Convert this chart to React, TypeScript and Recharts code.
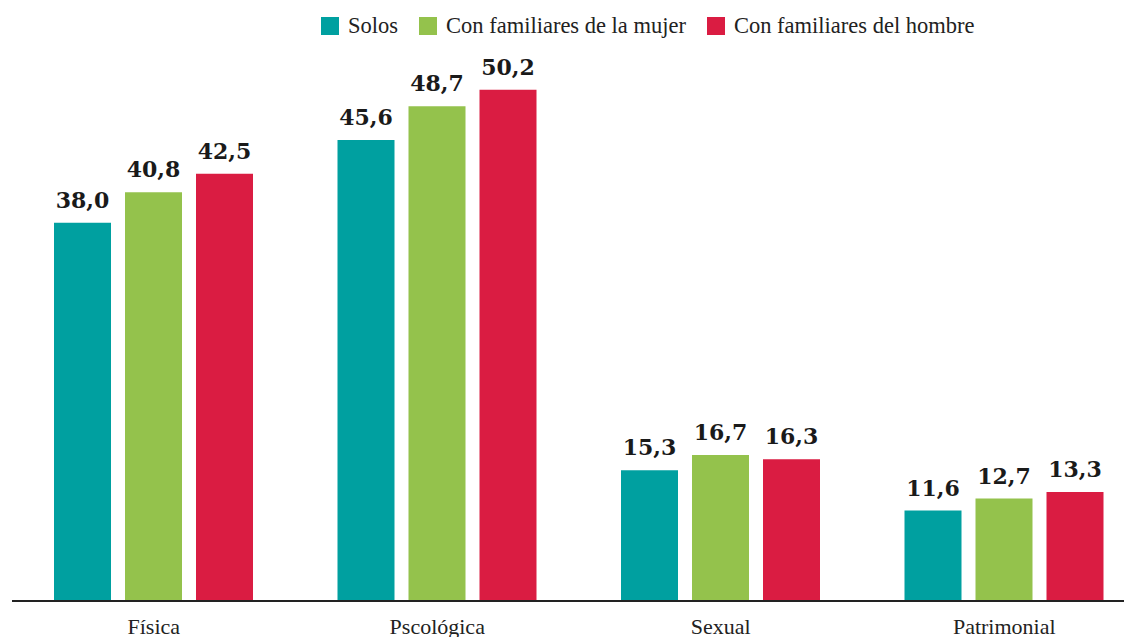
import React from "react";
import { BarChart, Bar, XAxis, YAxis, LabelList } from "recharts";

const categories = ["Física", "Pscológica", "Sexual", "Patrimonial"];
const solos = [38.0, 45.6, 15.3, 11.6];
const familiaresMujer = [40.8, 48.7, 16.7, 12.7];
const familiaresHombre = [42.5, 50.2, 16.3, 13.3];

const seriesNames = ["Solos", "Con familiares de la mujer", "Con familiares del hombre"];
const COLORS = ["#00A0A0", "#94C24C", "#DA1C42"];

const data = categories.map((name, i) => ({
  name,
  solos: solos[i],
  mujer: familiaresMujer[i],
  hombre: familiaresHombre[i],
}));

const fmt = (v: any) => Number(v).toFixed(1).replace(".", ",");

const labelStyle = { fontFamily: "'DejaVu Serif', serif", fontWeight: 700, fontSize: 22, fill: "#1a1a1a" };

function CustomLegend() {
  return (
    <div style={{ position: "absolute", left: 313, top: 5, display: "flex", alignItems: "center", fontFamily: "'Liberation Serif', serif", fontSize: 22.5, color: "#222" }}>
      {seriesNames.map((n, i) => (
        <div key={n} style={{ display: "flex", alignItems: "center", marginRight: 21 }}>
          <span style={{ width: 18, height: 18, background: COLORS[i], display: "inline-block", marginRight: 9 }} />
          <span>{n}</span>
        </div>
      ))}
    </div>
  );
}

export default function App() {
  return (
    <div style={{ position: "relative", width: 1124, height: 629, overflow: "hidden" }}>
      <CustomLegend />
      <BarChart width={1142} height={629} data={data} margin={{ top: 29.5, right: 4, bottom: 0, left: 4 }} barSize={57} barGap={14}>
        <XAxis
          dataKey="name"
          height={36}
          tickLine={false}
          axisLine={{ stroke: "#222", strokeWidth: 2 }}
          tickMargin={11}
          tick={{ fontFamily: "'Liberation Serif', serif", fontSize: 22, fill: "#222" }}
        />
        <YAxis hide domain={[3.3, 55]} allowDataOverflow />
        <Bar dataKey="solos" fill={COLORS[0]} isAnimationActive={false}>
          <LabelList dataKey="solos" position="top" offset={15} formatter={fmt} style={labelStyle} />
        </Bar>
        <Bar dataKey="mujer" fill={COLORS[1]} isAnimationActive={false}>
          <LabelList dataKey="mujer" position="top" offset={15} formatter={fmt} style={labelStyle} />
        </Bar>
        <Bar dataKey="hombre" fill={COLORS[2]} isAnimationActive={false}>
          <LabelList dataKey="hombre" position="top" offset={15} formatter={fmt} style={labelStyle} />
        </Bar>
      </BarChart>
    </div>
  );
}
